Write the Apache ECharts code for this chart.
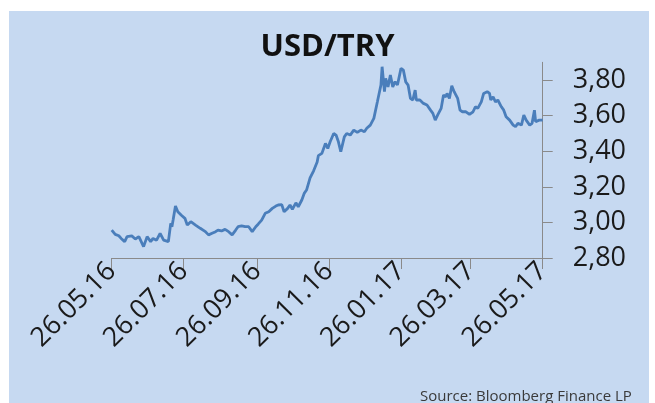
<!DOCTYPE html>
<html>
<head>
<meta charset="utf-8">
<script src="https://cdn.jsdelivr.net/npm/echarts@6/dist/echarts.min.js"></script>
<style>
html,body{margin:0;padding:0;background:#ffffff;}
#chart{width:655px;height:403px;}
</style>
</head>
<body>
<div id="chart"></div>
<script>
// Days since 26.05.16 of each sampled observation
const dayOffsets = [0,3,6,8,11,13,17,20,23,25,27,30,33,35,38,41,44,48,50,51,52,54,56,59,62,64,67,71,75,79,82,85,88,90,93,96,99,102,105,107,110,113,116,119,122,124,127,130,133,136,139,141,144,146,149,151,153,156,158,161,163,165,168,171,174,175,178,181,183,185,188,190,192,194,197,199,202,205,208,211,214,216,219,222,225,228,229,231,232,234,236,238,240,242,245,247,249,251,253,255,257,258,261,264,267,270,272,274,276,279,281,283,284,286,288,290,291,293,295,297,300,303,306,308,310,313,315,318,320,321,323,325,327,330,332,334,337,340,342,344,347,349,351,354,356,358,359,362,365];
// USD/TRY rate
const rates = [2.957,2.933,2.925,2.91,2.892,2.92,2.924,2.907,2.92,2.892,2.864,2.92,2.892,2.91,2.90,2.939,2.90,2.892,2.995,2.976,3.013,3.092,3.06,3.04,3.023,2.985,3.004,2.985,2.967,2.95,2.93,2.939,2.948,2.957,2.952,2.961,2.948,2.93,2.957,2.976,2.98,2.976,2.976,2.948,2.976,2.99,3.013,3.051,3.06,3.079,3.092,3.098,3.10,3.06,3.079,3.098,3.074,3.11,3.088,3.126,3.163,3.182,3.25,3.29,3.34,3.375,3.388,3.444,3.416,3.453,3.50,3.491,3.453,3.397,3.481,3.50,3.491,3.519,3.506,3.519,3.51,3.529,3.547,3.585,3.678,3.772,3.875,3.735,3.81,3.762,3.828,3.762,3.791,3.772,3.866,3.856,3.79,3.772,3.697,3.688,3.744,3.688,3.688,3.669,3.66,3.631,3.613,3.575,3.603,3.641,3.716,3.706,3.725,3.697,3.768,3.735,3.744,3.697,3.631,3.622,3.622,3.607,3.622,3.65,3.641,3.678,3.725,3.735,3.725,3.688,3.706,3.678,3.688,3.65,3.631,3.594,3.575,3.547,3.538,3.557,3.547,3.603,3.575,3.547,3.557,3.631,3.566,3.575,3.575];
const tickLabels = ['26.05.16','26.07.16','26.09.16','26.11.16','26.01.17','26.03.17','26.05.17'];
const yTicks = [2.8, 3.0, 3.2, 3.4, 3.6, 3.8];

function parseDMY(s){ const p = s.split('.'); return Date.UTC(2000 + +p[2], +p[1]-1, +p[0]); }
const start = parseDMY(tickLabels[0]);
const tickDays = tickLabels.map(s => Math.round((parseDMY(s) - start) / 86400000));
const labelByDay = {};
tickDays.forEach((d,i) => { labelByDay[d] = tickLabels[i]; });
const seriesData = dayOffsets.map((d,i) => [d, rates[i]]);

const chart = echarts.init(document.getElementById('chart'), null, {renderer:'canvas'});
chart.setOption({
  backgroundColor: '#ffffff',
  animation: false,
  graphic: [
    {type:'rect', z:-10, silent:true, shape:{x:9,y:11,width:640,height:392}, style:{fill:'#c6d9f1'}},
    {type:'text', left:420, top:389, silent:true, style:{text:'Source: Bloomberg Finance LP', fontFamily:'Open Sans', fontSize:15, fill:'#3a3a3a'}}
  ],
  title: {
    text: 'USD/TRY', left: 'center', top: 27,
    textStyle: {fontFamily:'Open Sans', fontWeight:'bold', fontSize:31, color:'#111111'}
  },
  grid: {left:111.7, right:112.3, top:62.3, bottom:145, outerBoundsMode:'none'},
  xAxis: {
    type: 'value', min: tickDays[0], max: tickDays[tickDays.length-1],
    axisLine: {show:true, onZero:false, lineStyle:{color:'#8a8a8a', width:1}},
    axisTick: {show:true, customValues: tickDays, length:11, lineStyle:{color:'#8a8a8a'}},
    axisLabel: {customValues: tickDays, rotate:45, margin:9, fontFamily:'Open Sans', fontSize:27, color:'#1a1a1a',
      formatter: v => labelByDay[Math.round(v)] || ''},
    splitLine: {show:false}
  },
  yAxis: {
    type: 'value', position: 'right', min: 2.8, max: 3.9,
    axisLine: {show:true, onZero:false, lineStyle:{color:'#8a8a8a', width:1}},
    axisTick: {show:true, customValues: yTicks, length:10, lineStyle:{color:'#8a8a8a'}},
    axisLabel: {customValues: yTicks, margin:30, fontFamily:'Open Sans', fontSize:27, color:'#1a1a1a', formatter: v => v.toFixed(2).replace('.',',')},
    splitLine: {show:false}
  },
  series: [{
    type:'line', data: seriesData, showSymbol:false, symbol:'none',
    lineStyle:{color:'#4a7ebb', width:2.8}
  }]
});
</script>
</body>
</html>
